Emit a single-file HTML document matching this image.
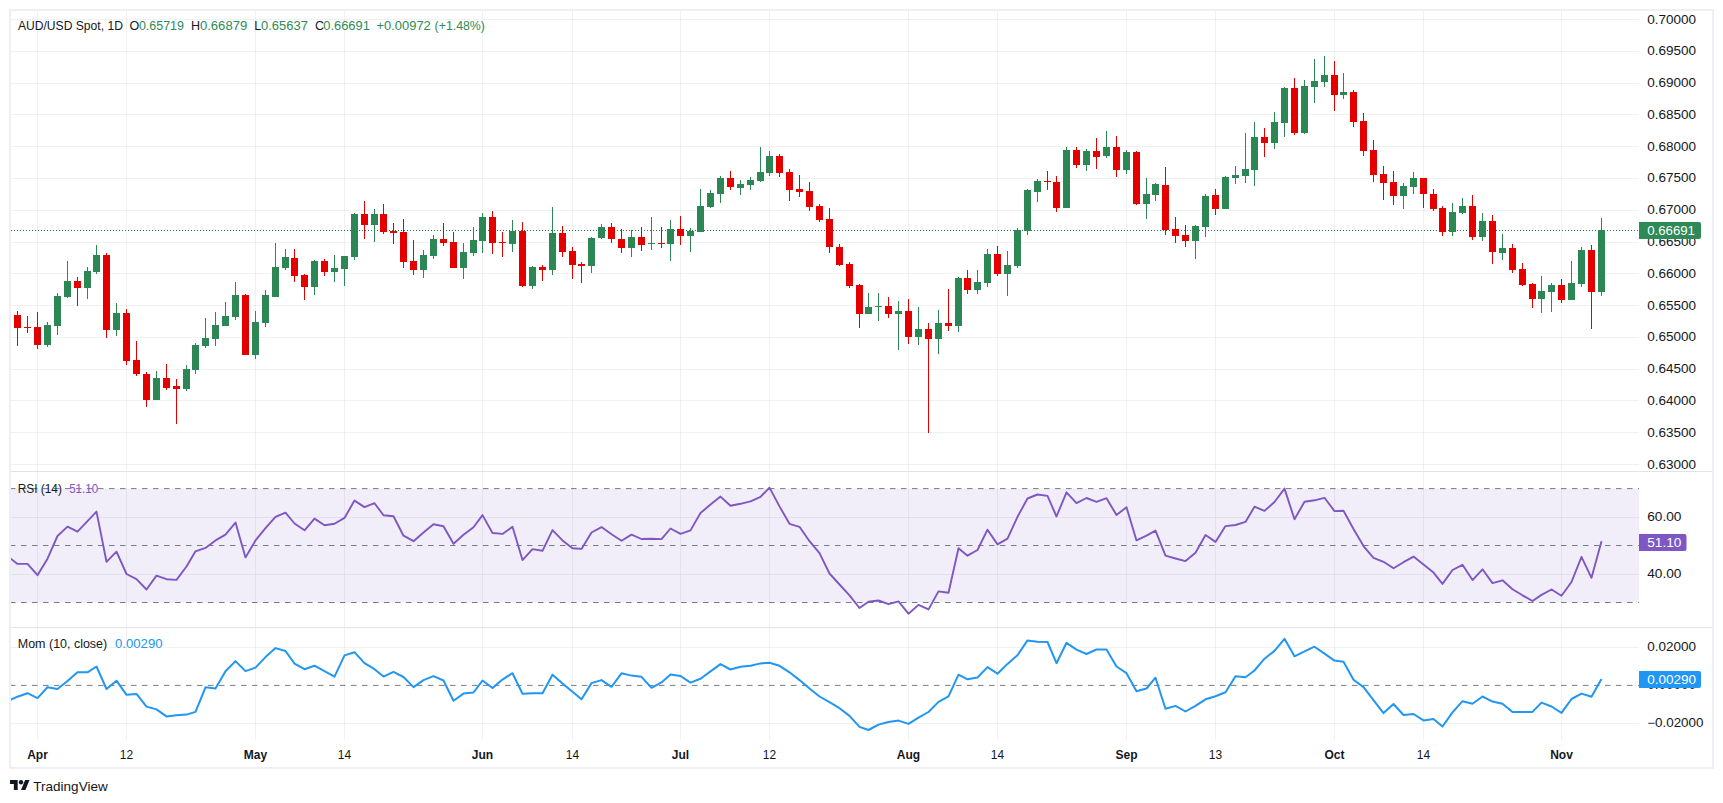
<!DOCTYPE html>
<html lang="en"><head><meta charset="utf-8"><title>AUD/USD Spot, 1D</title>
<style>html,body{margin:0;padding:0;background:#fff}body{width:1723px;height:803px;overflow:hidden}svg{display:block}</style>
</head><body>
<svg width="1723" height="803" viewBox="0 0 1723 803" font-family='"Liberation Sans", Arial, sans-serif' font-size="12">
<rect width="1723" height="803" fill="#fff"/>
<rect x="11" y="488.6" width="1628" height="113.89999999999998" fill="#f2eef9"/>
<g stroke="rgba(42,46,57,0.065)" stroke-width="1" shape-rendering="crispEdges">
<line x1="11" x2="1639" y1="19.5" y2="19.5"/>
<line x1="11" x2="1639" y1="51.5" y2="51.5"/>
<line x1="11" x2="1639" y1="83.5" y2="83.5"/>
<line x1="11" x2="1639" y1="114.5" y2="114.5"/>
<line x1="11" x2="1639" y1="146.5" y2="146.5"/>
<line x1="11" x2="1639" y1="178.5" y2="178.5"/>
<line x1="11" x2="1639" y1="210.5" y2="210.5"/>
<line x1="11" x2="1639" y1="242.5" y2="242.5"/>
<line x1="11" x2="1639" y1="273.5" y2="273.5"/>
<line x1="11" x2="1639" y1="305.5" y2="305.5"/>
<line x1="11" x2="1639" y1="337.5" y2="337.5"/>
<line x1="11" x2="1639" y1="369.5" y2="369.5"/>
<line x1="11" x2="1639" y1="400.5" y2="400.5"/>
<line x1="11" x2="1639" y1="432.5" y2="432.5"/>
<line x1="11" x2="1639" y1="464.5" y2="464.5"/>
<line x1="11" x2="1639" y1="517.5" y2="517.5" />
<line x1="11" x2="1639" y1="574.5" y2="574.5" />
<line x1="11" x2="1639" y1="647.5" y2="647.5"/>
<line x1="11" x2="1639" y1="723.5" y2="723.5"/>
<line x1="37.5" x2="37.5" y1="11" y2="739.5"/>
<line x1="126.5" x2="126.5" y1="11" y2="739.5"/>
<line x1="255.5" x2="255.5" y1="11" y2="739.5"/>
<line x1="344.5" x2="344.5" y1="11" y2="739.5"/>
<line x1="482.5" x2="482.5" y1="11" y2="739.5"/>
<line x1="572.5" x2="572.5" y1="11" y2="739.5"/>
<line x1="680.5" x2="680.5" y1="11" y2="739.5"/>
<line x1="769.5" x2="769.5" y1="11" y2="739.5"/>
<line x1="908.5" x2="908.5" y1="11" y2="739.5"/>
<line x1="997.5" x2="997.5" y1="11" y2="739.5"/>
<line x1="1126.5" x2="1126.5" y1="11" y2="739.5"/>
<line x1="1215.5" x2="1215.5" y1="11" y2="739.5"/>
<line x1="1334.5" x2="1334.5" y1="11" y2="739.5"/>
<line x1="1423.5" x2="1423.5" y1="11" y2="739.5"/>
<line x1="1561.5" x2="1561.5" y1="11" y2="739.5"/>
</g>
<g stroke="#e0e3eb" stroke-width="1" shape-rendering="crispEdges"><line x1="11" x2="1712" y1="471.5" y2="471.5"/><line x1="11" x2="1712" y1="627.5" y2="627.5"/></g>
<g stroke="#787b86" stroke-width="1" stroke-dasharray="5.5 5.5" fill="none">
<line x1="10" x2="1639" y1="488.6" y2="488.6"/>
<line x1="10" x2="1639" y1="545.5" y2="545.5"/>
<line x1="10" x2="1639" y1="602.5" y2="602.5"/>
<line x1="10" x2="1639" y1="685.4" y2="685.4"/>
</g>
<line x1="11" x2="1639" y1="230.5" y2="230.5" stroke="#1f7d49" stroke-width="1" stroke-dasharray="1 2"/>
<g shape-rendering="crispEdges">
<rect x="10" y="315" width="1.3" height="1" fill="#2d8754" opacity="0.6"/>
<rect x="17" y="311" width="1" height="35" fill="#e50000"/><rect x="14" y="315" width="7" height="13" fill="#e50000"/>
<rect x="27" y="316" width="1" height="17" fill="#e50000"/><rect x="24" y="327" width="7" height="1" fill="#e50000"/>
<rect x="37" y="312" width="1" height="37" fill="#e50000"/><rect x="34" y="327" width="7" height="18" fill="#e50000"/>
<rect x="47" y="322" width="1" height="25" fill="#2d8754"/><rect x="44" y="325" width="7" height="20" fill="#2d8754"/>
<rect x="57" y="293" width="1" height="42" fill="#2d8754"/><rect x="54" y="296" width="7" height="30" fill="#2d8754"/>
<rect x="67" y="261" width="1" height="37" fill="#2d8754"/><rect x="64" y="281" width="7" height="16" fill="#2d8754"/>
<rect x="77" y="277" width="1" height="29" fill="#e50000"/><rect x="74" y="281" width="7" height="7" fill="#e50000"/>
<rect x="87" y="267" width="1" height="32" fill="#2d8754"/><rect x="84" y="271" width="7" height="17" fill="#2d8754"/>
<rect x="96" y="245" width="1" height="29" fill="#2d8754"/><rect x="93" y="255" width="7" height="17" fill="#2d8754"/>
<rect x="106" y="253" width="1" height="85" fill="#e50000"/><rect x="103" y="255" width="7" height="75" fill="#e50000"/>
<rect x="116" y="303" width="1" height="33" fill="#2d8754"/><rect x="113" y="313" width="7" height="17" fill="#2d8754"/>
<rect x="126" y="309" width="1" height="56" fill="#e50000"/><rect x="123" y="313" width="7" height="48" fill="#e50000"/>
<rect x="136" y="341" width="1" height="35" fill="#e50000"/><rect x="133" y="360" width="7" height="14" fill="#e50000"/>
<rect x="146" y="372" width="1" height="35" fill="#e50000"/><rect x="143" y="374" width="7" height="26" fill="#e50000"/>
<rect x="156" y="371" width="1" height="29" fill="#2d8754"/><rect x="153" y="378" width="7" height="22" fill="#2d8754"/>
<rect x="166" y="364" width="1" height="26" fill="#e50000"/><rect x="163" y="378" width="7" height="10" fill="#e50000"/>
<rect x="176" y="379" width="1" height="45" fill="#e50000"/><rect x="173" y="386" width="7" height="3" fill="#e50000"/>
<rect x="186" y="365" width="1" height="26" fill="#2d8754"/><rect x="183" y="369" width="7" height="20" fill="#2d8754"/>
<rect x="195" y="343" width="1" height="31" fill="#2d8754"/><rect x="192" y="345" width="7" height="25" fill="#2d8754"/>
<rect x="205" y="318" width="1" height="30" fill="#2d8754"/><rect x="202" y="338" width="7" height="8" fill="#2d8754"/>
<rect x="215" y="312" width="1" height="34" fill="#2d8754"/><rect x="212" y="325" width="7" height="14" fill="#2d8754"/>
<rect x="225" y="302" width="1" height="24" fill="#2d8754"/><rect x="222" y="316" width="7" height="10" fill="#2d8754"/>
<rect x="235" y="282" width="1" height="38" fill="#2d8754"/><rect x="232" y="295" width="7" height="22" fill="#2d8754"/>
<rect x="245" y="294" width="1" height="61" fill="#e50000"/><rect x="242" y="295" width="7" height="60" fill="#e50000"/>
<rect x="255" y="311" width="1" height="48" fill="#2d8754"/><rect x="252" y="322" width="7" height="33" fill="#2d8754"/>
<rect x="265" y="290" width="1" height="37" fill="#2d8754"/><rect x="262" y="295" width="7" height="28" fill="#2d8754"/>
<rect x="275" y="243" width="1" height="54" fill="#2d8754"/><rect x="272" y="267" width="7" height="30" fill="#2d8754"/>
<rect x="285" y="249" width="1" height="21" fill="#2d8754"/><rect x="282" y="257" width="7" height="11" fill="#2d8754"/>
<rect x="294" y="249" width="1" height="33" fill="#e50000"/><rect x="291" y="258" width="7" height="18" fill="#e50000"/>
<rect x="304" y="274" width="1" height="26" fill="#e50000"/><rect x="301" y="275" width="7" height="12" fill="#e50000"/>
<rect x="314" y="260" width="1" height="35" fill="#2d8754"/><rect x="311" y="261" width="7" height="26" fill="#2d8754"/>
<rect x="324" y="259" width="1" height="17" fill="#e50000"/><rect x="321" y="261" width="7" height="11" fill="#e50000"/>
<rect x="334" y="255" width="1" height="27" fill="#2d8754"/><rect x="331" y="268" width="7" height="4" fill="#2d8754"/>
<rect x="344" y="256" width="1" height="30" fill="#2d8754"/><rect x="341" y="256" width="7" height="13" fill="#2d8754"/>
<rect x="354" y="213" width="1" height="47" fill="#2d8754"/><rect x="351" y="214" width="7" height="43" fill="#2d8754"/>
<rect x="364" y="201" width="1" height="38" fill="#e50000"/><rect x="361" y="214" width="7" height="11" fill="#e50000"/>
<rect x="374" y="209" width="1" height="33" fill="#2d8754"/><rect x="371" y="214" width="7" height="11" fill="#2d8754"/>
<rect x="383" y="204" width="1" height="30" fill="#e50000"/><rect x="380" y="214" width="7" height="18" fill="#e50000"/>
<rect x="393" y="223" width="1" height="21" fill="#e50000"/><rect x="390" y="231" width="7" height="2" fill="#e50000"/>
<rect x="403" y="219" width="1" height="49" fill="#e50000"/><rect x="400" y="232" width="7" height="30" fill="#e50000"/>
<rect x="413" y="240" width="1" height="35" fill="#e50000"/><rect x="410" y="261" width="7" height="9" fill="#e50000"/>
<rect x="423" y="250" width="1" height="28" fill="#2d8754"/><rect x="420" y="255" width="7" height="15" fill="#2d8754"/>
<rect x="433" y="235" width="1" height="24" fill="#2d8754"/><rect x="430" y="239" width="7" height="17" fill="#2d8754"/>
<rect x="443" y="223" width="1" height="23" fill="#e50000"/><rect x="440" y="239" width="7" height="4" fill="#e50000"/>
<rect x="453" y="232" width="1" height="36" fill="#e50000"/><rect x="450" y="242" width="7" height="26" fill="#e50000"/>
<rect x="463" y="243" width="1" height="36" fill="#2d8754"/><rect x="460" y="252" width="7" height="16" fill="#2d8754"/>
<rect x="473" y="227" width="1" height="29" fill="#2d8754"/><rect x="470" y="240" width="7" height="13" fill="#2d8754"/>
<rect x="482" y="213" width="1" height="40" fill="#2d8754"/><rect x="479" y="217" width="7" height="24" fill="#2d8754"/>
<rect x="492" y="211" width="1" height="43" fill="#e50000"/><rect x="489" y="217" width="7" height="26" fill="#e50000"/>
<rect x="502" y="232" width="1" height="25" fill="#e50000"/><rect x="499" y="242" width="7" height="1" fill="#e50000"/>
<rect x="512" y="220" width="1" height="32" fill="#2d8754"/><rect x="509" y="231" width="7" height="13" fill="#2d8754"/>
<rect x="522" y="222" width="1" height="65" fill="#e50000"/><rect x="519" y="231" width="7" height="55" fill="#e50000"/>
<rect x="532" y="266" width="1" height="23" fill="#2d8754"/><rect x="529" y="267" width="7" height="19" fill="#2d8754"/>
<rect x="542" y="265" width="1" height="16" fill="#e50000"/><rect x="539" y="267" width="7" height="3" fill="#e50000"/>
<rect x="552" y="207" width="1" height="68" fill="#2d8754"/><rect x="549" y="233" width="7" height="37" fill="#2d8754"/>
<rect x="562" y="226" width="1" height="31" fill="#e50000"/><rect x="559" y="233" width="7" height="19" fill="#e50000"/>
<rect x="572" y="247" width="1" height="32" fill="#e50000"/><rect x="569" y="251" width="7" height="14" fill="#e50000"/>
<rect x="581" y="262" width="1" height="21" fill="#e50000"/><rect x="578" y="264" width="7" height="2" fill="#e50000"/>
<rect x="591" y="237" width="1" height="36" fill="#2d8754"/><rect x="588" y="238" width="7" height="28" fill="#2d8754"/>
<rect x="601" y="224" width="1" height="15" fill="#2d8754"/><rect x="598" y="227" width="7" height="11" fill="#2d8754"/>
<rect x="611" y="223" width="1" height="20" fill="#e50000"/><rect x="608" y="227" width="7" height="12" fill="#e50000"/>
<rect x="621" y="229" width="1" height="24" fill="#e50000"/><rect x="618" y="239" width="7" height="9" fill="#e50000"/>
<rect x="631" y="230" width="1" height="27" fill="#2d8754"/><rect x="628" y="237" width="7" height="11" fill="#2d8754"/>
<rect x="641" y="227" width="1" height="24" fill="#e50000"/><rect x="638" y="237" width="7" height="8" fill="#e50000"/>
<rect x="651" y="217" width="1" height="33" fill="#2d8754"/><rect x="648" y="243" width="7" height="1" fill="#2d8754"/>
<rect x="661" y="227" width="1" height="21" fill="#e50000"/><rect x="658" y="243" width="7" height="1" fill="#e50000"/>
<rect x="670" y="220" width="1" height="41" fill="#2d8754"/><rect x="667" y="229" width="7" height="15" fill="#2d8754"/>
<rect x="680" y="216" width="1" height="29" fill="#e50000"/><rect x="677" y="229" width="7" height="7" fill="#e50000"/>
<rect x="690" y="228" width="1" height="24" fill="#2d8754"/><rect x="687" y="231" width="7" height="5" fill="#2d8754"/>
<rect x="700" y="189" width="1" height="43" fill="#2d8754"/><rect x="697" y="206" width="7" height="26" fill="#2d8754"/>
<rect x="710" y="190" width="1" height="18" fill="#2d8754"/><rect x="707" y="193" width="7" height="14" fill="#2d8754"/>
<rect x="720" y="176" width="1" height="27" fill="#2d8754"/><rect x="717" y="178" width="7" height="16" fill="#2d8754"/>
<rect x="730" y="171" width="1" height="19" fill="#e50000"/><rect x="727" y="178" width="7" height="9" fill="#e50000"/>
<rect x="740" y="180" width="1" height="15" fill="#2d8754"/><rect x="737" y="184" width="7" height="4" fill="#2d8754"/>
<rect x="750" y="177" width="1" height="13" fill="#2d8754"/><rect x="747" y="180" width="7" height="5" fill="#2d8754"/>
<rect x="760" y="147" width="1" height="35" fill="#2d8754"/><rect x="757" y="172" width="7" height="9" fill="#2d8754"/>
<rect x="769" y="151" width="1" height="25" fill="#2d8754"/><rect x="766" y="156" width="7" height="17" fill="#2d8754"/>
<rect x="779" y="154" width="1" height="23" fill="#e50000"/><rect x="776" y="156" width="7" height="17" fill="#e50000"/>
<rect x="789" y="169" width="1" height="32" fill="#e50000"/><rect x="786" y="172" width="7" height="18" fill="#e50000"/>
<rect x="799" y="175" width="1" height="22" fill="#e50000"/><rect x="796" y="189" width="7" height="3" fill="#e50000"/>
<rect x="809" y="182" width="1" height="29" fill="#e50000"/><rect x="806" y="191" width="7" height="16" fill="#e50000"/>
<rect x="819" y="204" width="1" height="18" fill="#e50000"/><rect x="816" y="206" width="7" height="14" fill="#e50000"/>
<rect x="829" y="208" width="1" height="45" fill="#e50000"/><rect x="826" y="219" width="7" height="28" fill="#e50000"/>
<rect x="839" y="244" width="1" height="22" fill="#e50000"/><rect x="836" y="247" width="7" height="18" fill="#e50000"/>
<rect x="849" y="262" width="1" height="26" fill="#e50000"/><rect x="846" y="264" width="7" height="22" fill="#e50000"/>
<rect x="859" y="284" width="1" height="44" fill="#e50000"/><rect x="856" y="285" width="7" height="29" fill="#e50000"/>
<rect x="868" y="293" width="1" height="21" fill="#2d8754"/><rect x="865" y="307" width="7" height="7" fill="#2d8754"/>
<rect x="878" y="293" width="1" height="28" fill="#2d8754"/><rect x="875" y="306" width="7" height="1" fill="#2d8754"/>
<rect x="888" y="297" width="1" height="21" fill="#e50000"/><rect x="885" y="306" width="7" height="8" fill="#e50000"/>
<rect x="898" y="301" width="1" height="49" fill="#2d8754"/><rect x="895" y="311" width="7" height="3" fill="#2d8754"/>
<rect x="908" y="299" width="1" height="45" fill="#e50000"/><rect x="905" y="311" width="7" height="26" fill="#e50000"/>
<rect x="918" y="307" width="1" height="38" fill="#2d8754"/><rect x="915" y="329" width="7" height="8" fill="#2d8754"/>
<rect x="928" y="323" width="1" height="110" fill="#e50000"/><rect x="925" y="329" width="7" height="10" fill="#e50000"/>
<rect x="938" y="310" width="1" height="44" fill="#2d8754"/><rect x="935" y="323" width="7" height="16" fill="#2d8754"/>
<rect x="948" y="289" width="1" height="42" fill="#e50000"/><rect x="945" y="323" width="7" height="3" fill="#e50000"/>
<rect x="958" y="277" width="1" height="55" fill="#2d8754"/><rect x="955" y="278" width="7" height="48" fill="#2d8754"/>
<rect x="967" y="270" width="1" height="24" fill="#e50000"/><rect x="964" y="278" width="7" height="12" fill="#e50000"/>
<rect x="977" y="270" width="1" height="24" fill="#2d8754"/><rect x="974" y="282" width="7" height="8" fill="#2d8754"/>
<rect x="987" y="249" width="1" height="38" fill="#2d8754"/><rect x="984" y="254" width="7" height="29" fill="#2d8754"/>
<rect x="997" y="246" width="1" height="30" fill="#e50000"/><rect x="994" y="254" width="7" height="20" fill="#e50000"/>
<rect x="1007" y="251" width="1" height="45" fill="#2d8754"/><rect x="1004" y="265" width="7" height="9" fill="#2d8754"/>
<rect x="1017" y="228" width="1" height="40" fill="#2d8754"/><rect x="1014" y="230" width="7" height="36" fill="#2d8754"/>
<rect x="1027" y="189" width="1" height="46" fill="#2d8754"/><rect x="1024" y="190" width="7" height="41" fill="#2d8754"/>
<rect x="1037" y="179" width="1" height="23" fill="#2d8754"/><rect x="1034" y="181" width="7" height="11" fill="#2d8754"/>
<rect x="1047" y="171" width="1" height="19" fill="#e50000"/><rect x="1044" y="181" width="7" height="1" fill="#e50000"/>
<rect x="1056" y="176" width="1" height="36" fill="#e50000"/><rect x="1053" y="182" width="7" height="26" fill="#e50000"/>
<rect x="1066" y="147" width="1" height="61" fill="#2d8754"/><rect x="1063" y="150" width="7" height="58" fill="#2d8754"/>
<rect x="1076" y="147" width="1" height="21" fill="#e50000"/><rect x="1073" y="150" width="7" height="15" fill="#e50000"/>
<rect x="1086" y="149" width="1" height="22" fill="#2d8754"/><rect x="1083" y="151" width="7" height="14" fill="#2d8754"/>
<rect x="1096" y="138" width="1" height="31" fill="#e50000"/><rect x="1093" y="151" width="7" height="6" fill="#e50000"/>
<rect x="1106" y="131" width="1" height="27" fill="#2d8754"/><rect x="1103" y="147" width="7" height="9" fill="#2d8754"/>
<rect x="1116" y="136" width="1" height="41" fill="#e50000"/><rect x="1113" y="147" width="7" height="23" fill="#e50000"/>
<rect x="1126" y="150" width="1" height="24" fill="#2d8754"/><rect x="1123" y="152" width="7" height="18" fill="#2d8754"/>
<rect x="1136" y="151" width="1" height="54" fill="#e50000"/><rect x="1133" y="152" width="7" height="52" fill="#e50000"/>
<rect x="1146" y="178" width="1" height="41" fill="#2d8754"/><rect x="1143" y="194" width="7" height="10" fill="#2d8754"/>
<rect x="1155" y="183" width="1" height="18" fill="#2d8754"/><rect x="1152" y="184" width="7" height="11" fill="#2d8754"/>
<rect x="1165" y="167" width="1" height="68" fill="#e50000"/><rect x="1162" y="185" width="7" height="45" fill="#e50000"/>
<rect x="1175" y="217" width="1" height="26" fill="#e50000"/><rect x="1172" y="229" width="7" height="7" fill="#e50000"/>
<rect x="1185" y="225" width="1" height="22" fill="#e50000"/><rect x="1182" y="235" width="7" height="6" fill="#e50000"/>
<rect x="1195" y="225" width="1" height="34" fill="#2d8754"/><rect x="1192" y="226" width="7" height="15" fill="#2d8754"/>
<rect x="1205" y="194" width="1" height="43" fill="#2d8754"/><rect x="1202" y="196" width="7" height="31" fill="#2d8754"/>
<rect x="1215" y="189" width="1" height="26" fill="#e50000"/><rect x="1212" y="195" width="7" height="14" fill="#e50000"/>
<rect x="1225" y="176" width="1" height="33" fill="#2d8754"/><rect x="1222" y="177" width="7" height="32" fill="#2d8754"/>
<rect x="1235" y="166" width="1" height="18" fill="#2d8754"/><rect x="1232" y="175" width="7" height="3" fill="#2d8754"/>
<rect x="1245" y="133" width="1" height="50" fill="#2d8754"/><rect x="1242" y="169" width="7" height="7" fill="#2d8754"/>
<rect x="1254" y="122" width="1" height="64" fill="#2d8754"/><rect x="1251" y="137" width="7" height="33" fill="#2d8754"/>
<rect x="1264" y="128" width="1" height="29" fill="#e50000"/><rect x="1261" y="137" width="7" height="6" fill="#e50000"/>
<rect x="1274" y="112" width="1" height="37" fill="#2d8754"/><rect x="1271" y="122" width="7" height="21" fill="#2d8754"/>
<rect x="1284" y="87" width="1" height="50" fill="#2d8754"/><rect x="1281" y="88" width="7" height="35" fill="#2d8754"/>
<rect x="1294" y="78" width="1" height="57" fill="#e50000"/><rect x="1291" y="88" width="7" height="45" fill="#e50000"/>
<rect x="1304" y="80" width="1" height="54" fill="#2d8754"/><rect x="1301" y="86" width="7" height="47" fill="#2d8754"/>
<rect x="1314" y="59" width="1" height="44" fill="#2d8754"/><rect x="1311" y="81" width="7" height="6" fill="#2d8754"/>
<rect x="1324" y="56" width="1" height="31" fill="#2d8754"/><rect x="1321" y="75" width="7" height="7" fill="#2d8754"/>
<rect x="1334" y="61" width="1" height="50" fill="#e50000"/><rect x="1331" y="75" width="7" height="20" fill="#e50000"/>
<rect x="1343" y="73" width="1" height="26" fill="#2d8754"/><rect x="1340" y="92" width="7" height="3" fill="#2d8754"/>
<rect x="1353" y="90" width="1" height="37" fill="#e50000"/><rect x="1350" y="92" width="7" height="30" fill="#e50000"/>
<rect x="1363" y="113" width="1" height="43" fill="#e50000"/><rect x="1360" y="121" width="7" height="30" fill="#e50000"/>
<rect x="1373" y="140" width="1" height="42" fill="#e50000"/><rect x="1370" y="150" width="7" height="25" fill="#e50000"/>
<rect x="1383" y="166" width="1" height="34" fill="#e50000"/><rect x="1380" y="174" width="7" height="9" fill="#e50000"/>
<rect x="1393" y="171" width="1" height="34" fill="#e50000"/><rect x="1390" y="182" width="7" height="14" fill="#e50000"/>
<rect x="1403" y="183" width="1" height="26" fill="#2d8754"/><rect x="1400" y="186" width="7" height="10" fill="#2d8754"/>
<rect x="1413" y="172" width="1" height="22" fill="#2d8754"/><rect x="1410" y="178" width="7" height="9" fill="#2d8754"/>
<rect x="1423" y="178" width="1" height="30" fill="#e50000"/><rect x="1420" y="178" width="7" height="16" fill="#e50000"/>
<rect x="1433" y="189" width="1" height="22" fill="#e50000"/><rect x="1430" y="194" width="7" height="15" fill="#e50000"/>
<rect x="1442" y="206" width="1" height="30" fill="#e50000"/><rect x="1439" y="208" width="7" height="24" fill="#e50000"/>
<rect x="1452" y="203" width="1" height="33" fill="#2d8754"/><rect x="1449" y="212" width="7" height="20" fill="#2d8754"/>
<rect x="1462" y="198" width="1" height="16" fill="#2d8754"/><rect x="1459" y="206" width="7" height="7" fill="#2d8754"/>
<rect x="1472" y="195" width="1" height="45" fill="#e50000"/><rect x="1469" y="206" width="7" height="31" fill="#e50000"/>
<rect x="1482" y="213" width="1" height="28" fill="#2d8754"/><rect x="1479" y="221" width="7" height="16" fill="#2d8754"/>
<rect x="1492" y="215" width="1" height="49" fill="#e50000"/><rect x="1489" y="221" width="7" height="31" fill="#e50000"/>
<rect x="1502" y="234" width="1" height="26" fill="#2d8754"/><rect x="1499" y="248" width="7" height="5" fill="#2d8754"/>
<rect x="1512" y="244" width="1" height="29" fill="#e50000"/><rect x="1509" y="248" width="7" height="22" fill="#e50000"/>
<rect x="1522" y="263" width="1" height="23" fill="#e50000"/><rect x="1519" y="269" width="7" height="16" fill="#e50000"/>
<rect x="1532" y="283" width="1" height="25" fill="#e50000"/><rect x="1529" y="284" width="7" height="15" fill="#e50000"/>
<rect x="1541" y="276" width="1" height="37" fill="#2d8754"/><rect x="1538" y="291" width="7" height="8" fill="#2d8754"/>
<rect x="1551" y="283" width="1" height="29" fill="#2d8754"/><rect x="1548" y="285" width="7" height="7" fill="#2d8754"/>
<rect x="1561" y="279" width="1" height="24" fill="#e50000"/><rect x="1558" y="285" width="7" height="15" fill="#e50000"/>
<rect x="1571" y="261" width="1" height="39" fill="#2d8754"/><rect x="1568" y="283" width="7" height="17" fill="#2d8754"/>
<rect x="1581" y="247" width="1" height="40" fill="#2d8754"/><rect x="1578" y="250" width="7" height="34" fill="#2d8754"/>
<rect x="1591" y="245" width="1" height="84" fill="#e50000"/><rect x="1588" y="250" width="7" height="42" fill="#e50000"/>
<rect x="1601" y="218" width="1" height="78" fill="#2d8754"/><rect x="1598" y="230" width="7" height="62" fill="#2d8754"/>
</g>
<defs><clipPath id="cp"><rect x="11" y="11" width="1628" height="729"/></clipPath></defs>
<polyline points="7.5,556.1 17.5,563.9 27.5,563.9 37.5,575.2 47.5,558.7 57.5,536.0 67.5,526.6 77.5,531.6 87.5,521.2 96.5,511.6 106.5,561.8 116.5,551.7 126.5,574.0 136.5,579.2 146.5,589.5 156.5,575.6 166.5,579.2 176.5,579.9 186.5,566.5 195.5,551.3 205.5,547.9 215.5,540.4 225.5,534.6 235.5,522.6 245.5,557.4 255.5,540.4 265.5,528.2 275.5,516.8 285.5,512.7 294.5,523.5 304.5,530.3 314.5,518.6 324.5,525.2 334.5,523.8 344.5,517.9 354.5,500.6 364.5,507.1 374.5,503.2 383.5,515.3 393.5,516.3 403.5,535.7 413.5,541.2 423.5,532.5 433.5,524.2 443.5,526.2 453.5,543.7 463.5,534.8 473.5,527.3 482.5,515.1 492.5,533.0 502.5,533.9 512.5,526.8 522.5,560.1 532.5,549.1 542.5,550.8 552.5,530.1 562.5,540.4 572.5,548.2 581.5,548.9 591.5,532.5 601.5,527.1 611.5,534.3 621.5,540.7 631.5,534.6 641.5,539.0 651.5,538.8 661.5,539.1 670.5,528.5 680.5,533.9 690.5,530.4 700.5,513.0 710.5,504.6 720.5,496.6 730.5,505.7 740.5,503.8 750.5,501.3 760.5,496.8 769.5,487.6 779.5,506.4 789.5,523.8 799.5,526.8 809.5,541.2 819.5,553.1 829.5,573.5 839.5,584.5 849.5,595.3 859.5,608.0 868.5,601.7 878.5,600.5 888.5,604.2 898.5,601.4 908.5,613.7 918.5,604.9 928.5,609.4 938.5,591.4 948.5,592.7 958.5,548.2 967.5,555.7 977.5,550.0 987.5,529.7 997.5,544.4 1007.5,538.6 1017.5,516.8 1027.5,498.5 1037.5,494.5 1047.5,495.9 1056.5,516.5 1066.5,492.3 1076.5,503.1 1086.5,498.0 1096.5,501.8 1106.5,498.2 1116.5,515.1 1126.5,507.2 1136.5,540.4 1146.5,535.7 1155.5,530.6 1165.5,555.7 1175.5,558.5 1185.5,561.1 1195.5,552.7 1205.5,535.0 1215.5,541.9 1225.5,526.1 1235.5,525.0 1245.5,521.9 1254.5,506.7 1264.5,510.9 1274.5,502.0 1284.5,488.6 1294.5,519.3 1304.5,501.8 1314.5,500.3 1324.5,497.8 1334.5,511.1 1343.5,510.7 1353.5,529.0 1363.5,546.1 1373.5,557.8 1383.5,561.8 1393.5,568.3 1403.5,562.2 1413.5,556.6 1423.5,564.6 1433.5,572.6 1442.5,583.9 1452.5,570.0 1462.5,564.8 1472.5,580.1 1482.5,569.3 1492.5,583.1 1502.5,580.3 1512.5,589.2 1522.5,595.3 1532.5,601.0 1541.5,594.9 1551.5,589.5 1561.5,595.8 1571.5,582.0 1581.5,556.9 1591.5,577.8 1601.5,541.2" fill="none" stroke="#7e57c2" stroke-width="1.9" stroke-linejoin="round" stroke-linecap="butt" clip-path="url(#cp)"/>
<polyline points="7.5,701.2 17.5,696.7 27.5,693.2 37.5,698.1 47.5,687.3 57.5,689.0 67.5,681.0 77.5,672.3 87.5,672.3 96.5,666.5 106.5,689.0 116.5,680.7 126.5,694.8 136.5,693.9 146.5,706.6 156.5,709.4 166.5,716.4 176.5,715.2 186.5,714.6 195.5,711.9 205.5,687.3 215.5,688.5 225.5,671.2 235.5,661.1 245.5,671.1 255.5,667.6 265.5,657.1 275.5,648.1 285.5,651.0 294.5,663.6 304.5,669.2 314.5,665.7 324.5,671.2 334.5,676.6 344.5,655.4 354.5,652.2 364.5,663.2 374.5,669.2 383.5,676.6 393.5,671.8 403.5,677.0 413.5,687.1 423.5,680.1 433.5,676.1 443.5,680.5 453.5,700.7 463.5,693.6 473.5,692.5 482.5,680.5 492.5,688.0 502.5,679.6 512.5,673.2 522.5,693.7 532.5,693.2 542.5,693.2 552.5,674.7 562.5,683.6 572.5,691.8 581.5,699.3 591.5,683.1 601.5,680.1 611.5,686.8 621.5,673.3 631.5,675.6 641.5,676.8 651.5,687.8 661.5,682.4 670.5,674.6 680.5,676.0 690.5,682.6 700.5,678.7 710.5,671.4 720.5,664.1 730.5,669.5 740.5,666.7 750.5,665.7 760.5,663.4 769.5,662.7 779.5,665.8 789.5,672.3 799.5,680.1 809.5,688.5 819.5,696.5 829.5,702.1 839.5,708.2 849.5,715.9 859.5,726.9 868.5,730.0 878.5,724.6 888.5,722.0 898.5,720.6 908.5,723.9 918.5,717.6 928.5,712.0 938.5,701.9 948.5,696.3 958.5,674.7 967.5,679.3 977.5,677.5 987.5,667.1 997.5,673.7 1007.5,663.9 1017.5,655.2 1027.5,640.4 1037.5,641.8 1047.5,642.0 1056.5,663.2 1066.5,642.8 1076.5,649.6 1086.5,654.0 1096.5,649.5 1106.5,649.5 1116.5,666.5 1126.5,673.2 1136.5,691.3 1146.5,688.5 1155.5,677.7 1165.5,708.7 1175.5,705.9 1185.5,711.5 1195.5,705.9 1205.5,699.3 1215.5,696.2 1225.5,692.2 1235.5,676.3 1245.5,677.2 1254.5,670.5 1264.5,658.7 1274.5,650.9 1284.5,638.8 1294.5,656.3 1304.5,651.4 1314.5,646.7 1324.5,653.6 1334.5,660.6 1343.5,661.8 1353.5,679.8 1363.5,687.1 1373.5,700.2 1383.5,713.1 1393.5,704.0 1403.5,715.0 1413.5,714.0 1423.5,720.4 1433.5,719.0 1442.5,726.5 1452.5,712.4 1462.5,701.2 1472.5,703.7 1482.5,696.5 1492.5,701.6 1502.5,703.7 1512.5,712.0 1522.5,712.0 1532.5,711.9 1541.5,702.6 1551.5,706.5 1561.5,712.9 1571.5,699.0 1581.5,693.6 1591.5,696.7 1601.5,678.9" fill="none" stroke="#2196f3" stroke-width="2.0" stroke-linejoin="round" stroke-linecap="butt" clip-path="url(#cp)"/>
<g fill="#131722" font-size="12">
<text x="1647.2" y="24.4" textLength="48.8" lengthAdjust="spacingAndGlyphs">0.70000</text>
<text x="1647.2" y="55.2" textLength="48.8" lengthAdjust="spacingAndGlyphs">0.69500</text>
<text x="1647.2" y="87.0" textLength="48.8" lengthAdjust="spacingAndGlyphs">0.69000</text>
<text x="1647.2" y="118.8" textLength="48.8" lengthAdjust="spacingAndGlyphs">0.68500</text>
<text x="1647.2" y="150.6" textLength="48.8" lengthAdjust="spacingAndGlyphs">0.68000</text>
<text x="1647.2" y="182.3" textLength="48.8" lengthAdjust="spacingAndGlyphs">0.67500</text>
<text x="1647.2" y="214.1" textLength="48.8" lengthAdjust="spacingAndGlyphs">0.67000</text>
<text x="1647.2" y="245.9" textLength="48.8" lengthAdjust="spacingAndGlyphs">0.66500</text>
<text x="1647.2" y="277.7" textLength="48.8" lengthAdjust="spacingAndGlyphs">0.66000</text>
<text x="1647.2" y="309.5" textLength="48.8" lengthAdjust="spacingAndGlyphs">0.65500</text>
<text x="1647.2" y="341.3" textLength="48.8" lengthAdjust="spacingAndGlyphs">0.65000</text>
<text x="1647.2" y="373.1" textLength="48.8" lengthAdjust="spacingAndGlyphs">0.64500</text>
<text x="1647.2" y="404.9" textLength="48.8" lengthAdjust="spacingAndGlyphs">0.64000</text>
<text x="1647.2" y="436.7" textLength="48.8" lengthAdjust="spacingAndGlyphs">0.63500</text>
<text x="1647.2" y="468.5" textLength="48.8" lengthAdjust="spacingAndGlyphs">0.63000</text>
<text x="1647.2" y="521.4" textLength="34.2" lengthAdjust="spacingAndGlyphs">60.00</text>
<text x="1647.2" y="578.4" textLength="34.2" lengthAdjust="spacingAndGlyphs">40.00</text>
<text x="1647.2" y="651.4" textLength="48.8" lengthAdjust="spacingAndGlyphs">0.02000</text>
<text x="1647.2" y="689.3" textLength="48.8" lengthAdjust="spacingAndGlyphs">0.00000</text>
<text x="1647.2" y="727.4" textLength="56.3" lengthAdjust="spacingAndGlyphs">−0.02000</text>
</g>
<path d="M1639,222H1699a2,2 0 0 1 2,2V237a2,2 0 0 1 -2,2H1639z" fill="#2e8b57"/>
<text x="1647.2" y="235.4" textLength="47.8" lengthAdjust="spacingAndGlyphs" fill="#fff">0.66691</text>
<path d="M1639,534H1684.5a2,2 0 0 1 2,2V549a2,2 0 0 1 -2,2H1639z" fill="#7e57c2"/>
<text x="1647.2" y="547.4" textLength="34.2" lengthAdjust="spacingAndGlyphs" fill="#fff">51.10</text>
<path d="M1639,671H1699a2,2 0 0 1 2,2V686a2,2 0 0 1 -2,2H1639z" fill="#2196f3"/>
<text x="1647.2" y="684.4" textLength="48.8" lengthAdjust="spacingAndGlyphs" fill="#fff">0.00290</text>
<text x="37.5" y="759" text-anchor="middle" fill="#131722" font-weight="bold">Apr</text>
<text x="126.5" y="759" text-anchor="middle" fill="#131722">12</text>
<text x="255.5" y="759" text-anchor="middle" fill="#131722" font-weight="bold">May</text>
<text x="344.5" y="759" text-anchor="middle" fill="#131722">14</text>
<text x="482.5" y="759" text-anchor="middle" fill="#131722" font-weight="bold">Jun</text>
<text x="572.5" y="759" text-anchor="middle" fill="#131722">14</text>
<text x="680.5" y="759" text-anchor="middle" fill="#131722" font-weight="bold">Jul</text>
<text x="769.5" y="759" text-anchor="middle" fill="#131722">12</text>
<text x="908.5" y="759" text-anchor="middle" fill="#131722" font-weight="bold">Aug</text>
<text x="997.5" y="759" text-anchor="middle" fill="#131722">14</text>
<text x="1126.5" y="759" text-anchor="middle" fill="#131722" font-weight="bold">Sep</text>
<text x="1215.5" y="759" text-anchor="middle" fill="#131722">13</text>
<text x="1334.5" y="759" text-anchor="middle" fill="#131722" font-weight="bold">Oct</text>
<text x="1423.5" y="759" text-anchor="middle" fill="#131722">14</text>
<text x="1561.5" y="759" text-anchor="middle" fill="#131722" font-weight="bold">Nov</text>
<text x="17.9" y="30" textLength="105.0" lengthAdjust="spacingAndGlyphs" fill="#131722" font-size="12.5">AUD/USD Spot, 1D</text>
<text x="129.5" y="30" fill="#131722" font-size="12.5">O</text>
<text x="138.9" y="30" textLength="45.1" lengthAdjust="spacingAndGlyphs" fill="#2e8b57" font-size="12.5">0.65719</text>
<text x="191.1" y="30" fill="#131722" font-size="12.5">H</text>
<text x="199.9" y="30" textLength="47.4" lengthAdjust="spacingAndGlyphs" fill="#2e8b57" font-size="12.5">0.66879</text>
<text x="254.3" y="30" fill="#131722" font-size="12.5">L</text>
<text x="261.0" y="30" textLength="46.9" lengthAdjust="spacingAndGlyphs" fill="#2e8b57" font-size="12.5">0.65637</text>
<text x="315.1" y="30" fill="#131722" font-size="12.5">C</text>
<text x="323.3" y="30" textLength="46.5" lengthAdjust="spacingAndGlyphs" fill="#2e8b57" font-size="12.5">0.66691</text>
<text x="376.5" y="30" textLength="54.3" lengthAdjust="spacingAndGlyphs" fill="#2e8b57" font-size="12.5">+0.00972</text>
<text x="434.6" y="30" textLength="50.3" lengthAdjust="spacingAndGlyphs" fill="#2e8b57" font-size="12.5">(+1.48%)</text>
<text x="17.8" y="492.5" textLength="44.1" lengthAdjust="spacingAndGlyphs" fill="#131722" font-size="12.5">RSI (14)</text>
<text x="69.2" y="492.5" textLength="28.9" lengthAdjust="spacingAndGlyphs" fill="#7e57c2" font-size="12.5">51.10</text>
<text x="17.8" y="648" textLength="89.4" lengthAdjust="spacingAndGlyphs" fill="#131722" font-size="12.5">Mom (10, close)</text>
<text x="114.9" y="648" textLength="47.7" lengthAdjust="spacingAndGlyphs" fill="#2196f3" font-size="12.5">0.00290</text>
<rect x="10" y="10" width="1703" height="758" fill="none" stroke="#edeff4" stroke-width="2"/>
<g transform="translate(10,777.85) scale(0.55)" fill="#131722"><path d="M14 22H7V11H0V4h14v18zM28 22h-8l7.5-18h8L28 22z"/><circle cx="20" cy="8" r="4"/></g>
<text x="33.3" y="790.8" textLength="74.4" lengthAdjust="spacingAndGlyphs" fill="#131722" font-size="13">TradingView</text>
</svg>
</body></html>
